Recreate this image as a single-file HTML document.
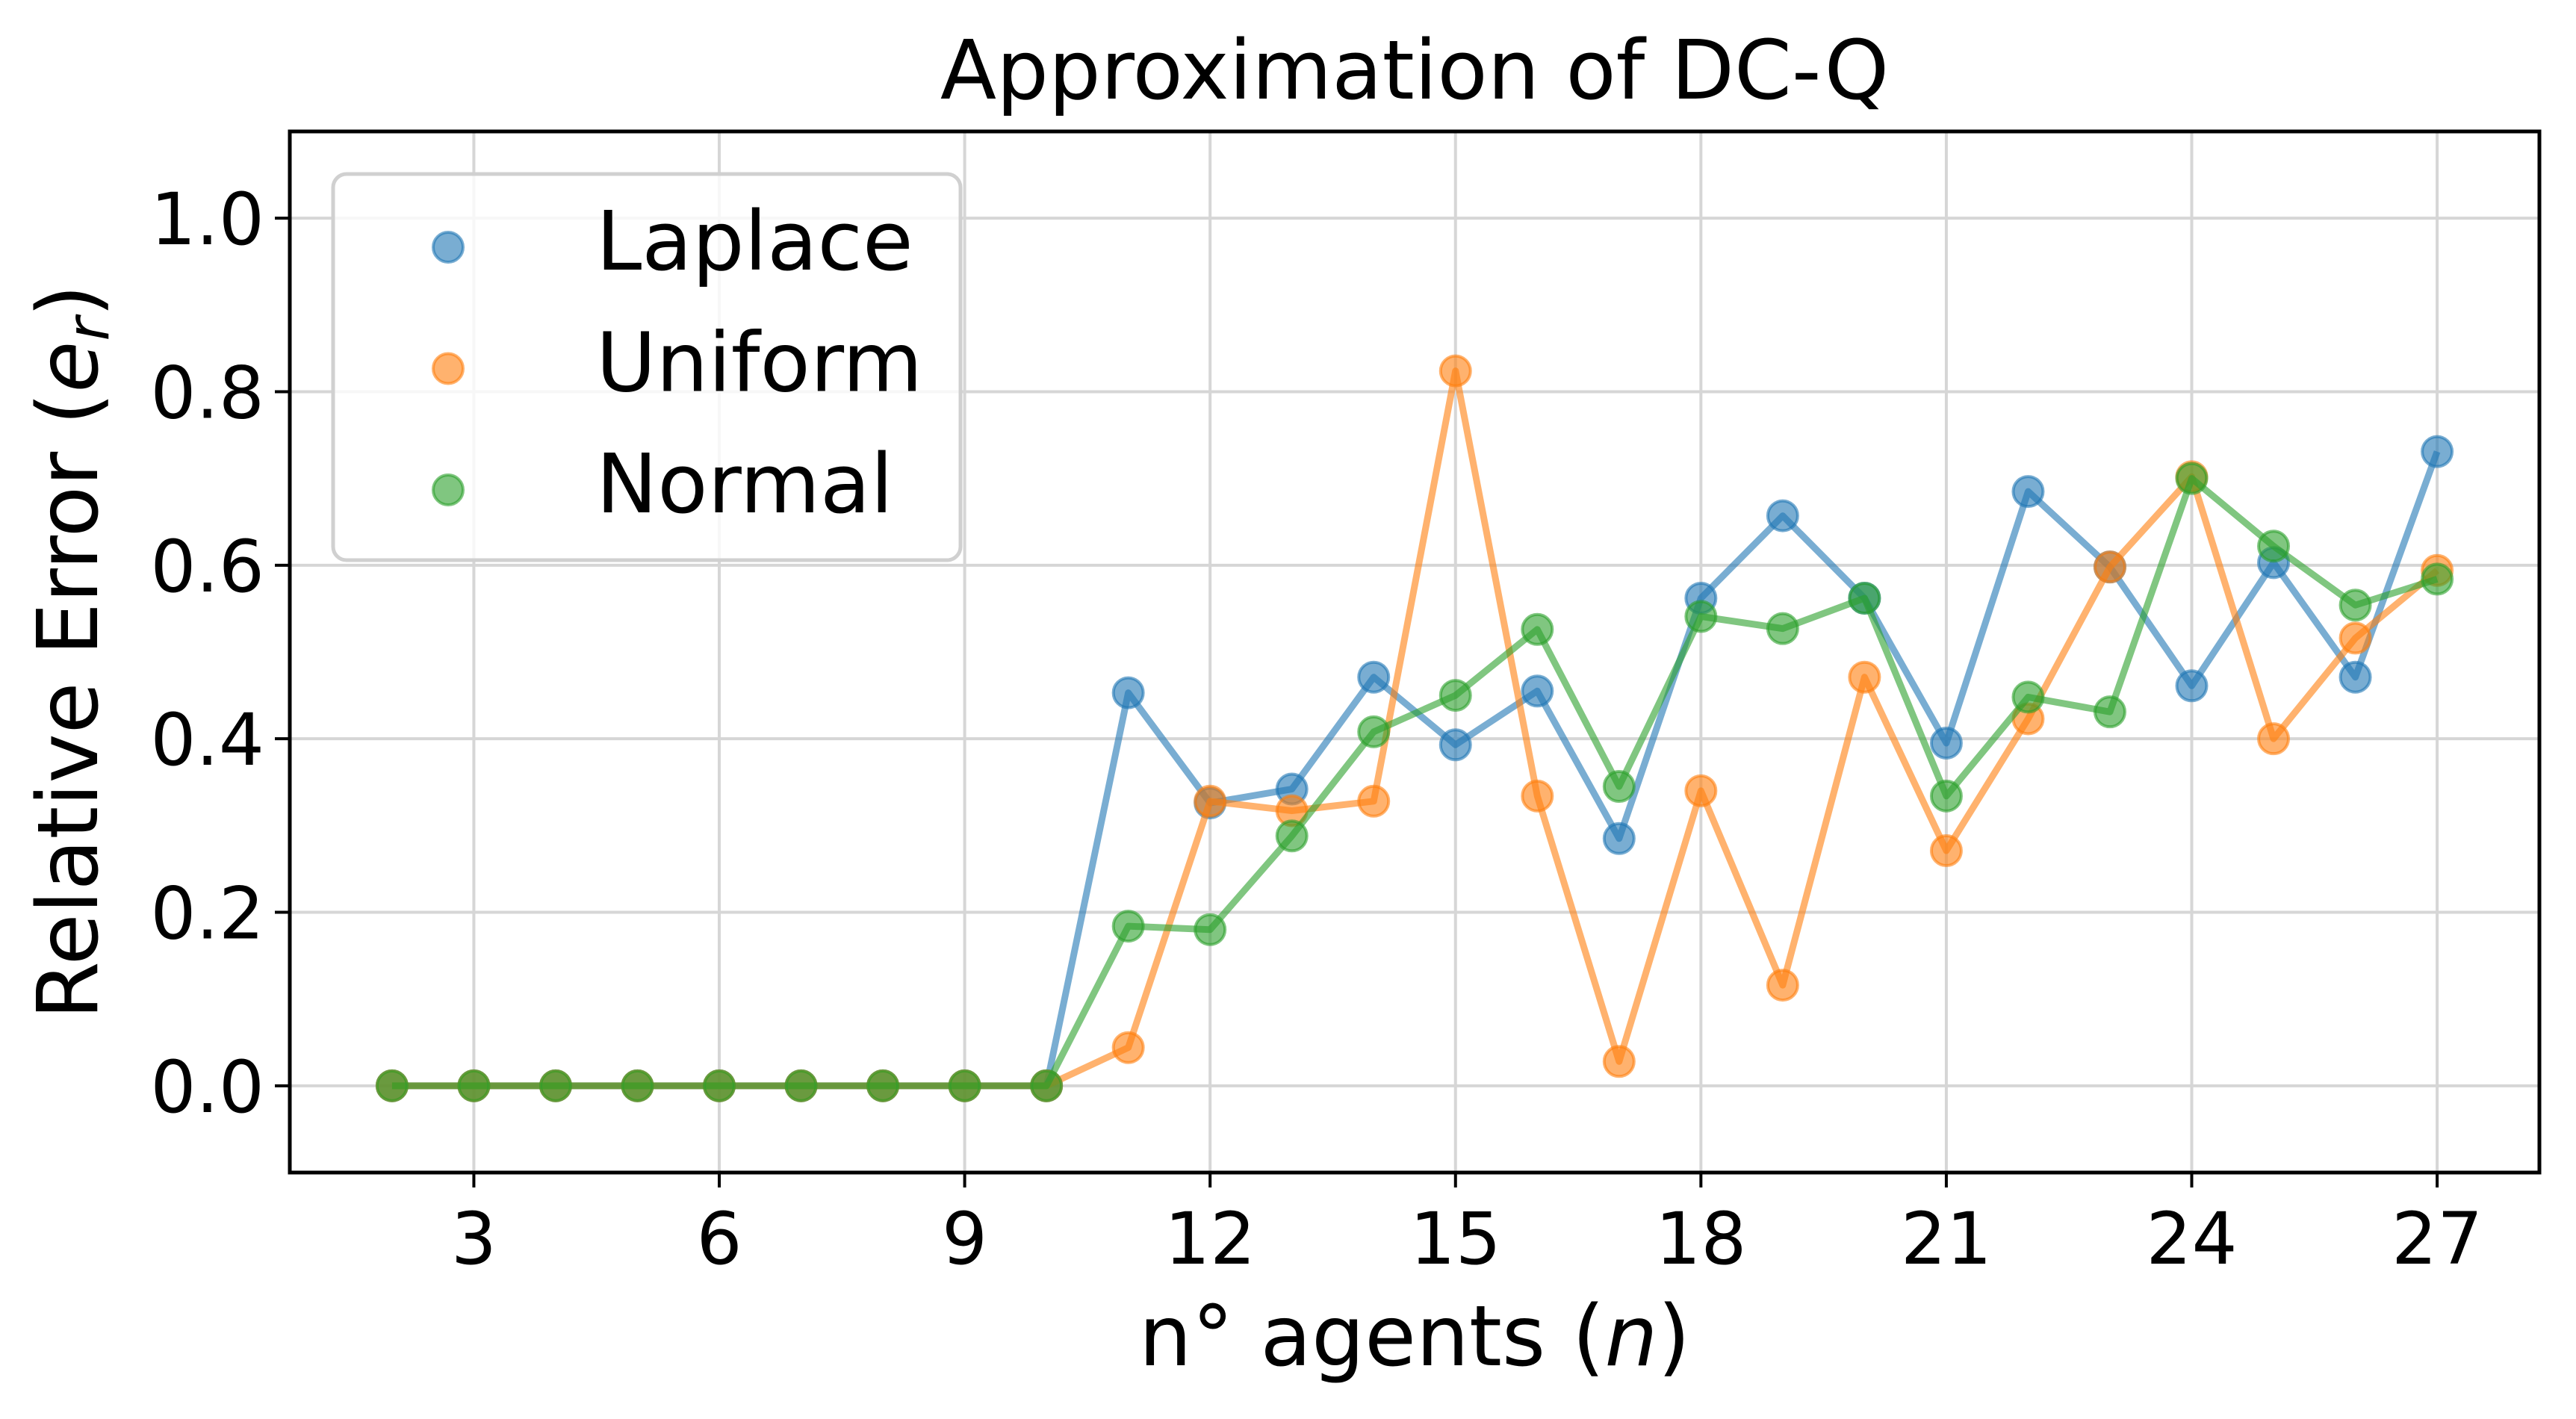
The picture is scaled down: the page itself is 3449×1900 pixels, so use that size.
<!DOCTYPE html>
<html><head><meta charset="utf-8"><style>
html,body{margin:0;padding:0;background:#fff;}
svg{display:block;font-family:"DejaVu Sans","Liberation Sans",sans-serif;}
</style></head><body>
<svg id="chart" width="3449" height="1900" viewBox="0 0 3449 1900" xmlns="http://www.w3.org/2000/svg">
<rect width="3449" height="1900" fill="#fff"/>
<g id="grid"></g>
<g id="series"></g>
<rect x="388" y="176" width="3012" height="1394" fill="none" stroke="#000" stroke-width="5"/>
<g id="ticks"></g>
<text x="1894" y="132" font-size="110" text-anchor="middle">Approximation of DC-Q</text>
<text x="1894" y="1828" font-size="112" text-anchor="middle">n° agents (<tspan font-style="italic">n</tspan>)</text>
<text transform="translate(130,873) rotate(-90)" font-size="112" text-anchor="middle">Relative Error (<tspan font-style="italic">e</tspan><tspan font-style="italic" font-size="78" dy="15">r</tspan><tspan dy="-15">)</tspan></text>
<g id="legend">
<rect x="446" y="233" width="840" height="517" rx="18" fill="#fff" fill-opacity="0.8" stroke="#d0d0d0" stroke-width="5"/>
</g>
</svg>
<script>
const categories=[2,3,4,5,6,7,8,9,10,11,12,13,14,15,16,17,18,19,20,21,22,23,24,25,26,27];
const laplace=[0,0,0,0,0,0,0,0,0,0.453,0.326,0.342,0.471,0.393,0.455,0.285,0.562,0.657,0.562,0.395,0.685,0.598,0.461,0.603,0.471,0.731];
const uniform=[0,0,0,0,0,0,0,0,0,0.044,0.328,0.317,0.328,0.824,0.334,0.028,0.340,0.116,0.471,0.271,0.423,0.598,0.702,0.400,0.516,0.594];
const normal=[0,0,0,0,0,0,0,0,0,0.184,0.180,0.288,0.408,0.450,0.526,0.345,0.541,0.527,0.562,0.334,0.448,0.431,0.700,0.622,0.554,0.584];
const xTicks=[3,6,9,12,15,18,21,24,27];
const yTicks=[0,0.2,0.4,0.6,0.8,1.0];
const yTickLabels=["0.0","0.2","0.4","0.6","0.8","1.0"];
const seriesNames=["Laplace","Uniform","Normal"];
const seriesColors=["#1f77b4","#ff7f0e","#2ca02c"];

const NS="http://www.w3.org/2000/svg";
const X0=388,X1=3400,Y0=176,Y1=1570,XMIN=0.75,XMAX=28.25,YMIN=-0.1,YMAX=1.1;
const xs=v=>X0+(v-XMIN)/(XMAX-XMIN)*(X1-X0);
const ys=v=>Y1-(v-YMIN)/(YMAX-YMIN)*(Y1-Y0);
function mk(tag,attrs,parent){const e=document.createElementNS(NS,tag);for(const k in attrs)e.setAttribute(k,attrs[k]);parent.appendChild(e);return e;}
const grid=document.getElementById('grid'),ticks=document.getElementById('ticks'),ser=document.getElementById('series'),leg=document.getElementById('legend');
xTicks.forEach(t=>{
  const g=mk('line',{x1:xs(t),x2:xs(t),y1:Y0,y2:Y1,stroke:'#d6d6d6','stroke-width':4},grid);
  
  
  const tk=mk('line',{x1:xs(t),x2:xs(t),y1:Y1,y2:Y1+20,stroke:'#000','stroke-width':4},ticks);
  
  
  const lb=mk('text',{x:xs(t),y:1692,'font-size':96,'text-anchor':'middle'},ticks);
  lb.textContent=String(t);
  
  
});
yTicks.forEach((t,i)=>{
  const g=mk('line',{x1:X0,x2:X1,y1:ys(t),y2:ys(t),stroke:'#d6d6d6','stroke-width':4},grid);
  
  
  const tk=mk('line',{x1:X0-20,x2:X0,y1:ys(t),y2:ys(t),stroke:'#000','stroke-width':4},ticks);
  
  
  const lb=mk('text',{x:X0-34,y:ys(t)+35,'font-size':96,'text-anchor':'end'},ticks);
  lb.textContent=yTickLabels[i];
  
  
});
[laplace,uniform,normal].forEach((vals,si)=>{
  const c=seriesColors[si];
  const pts=categories.map((x,i)=>xs(x)+','+ys(vals[i])).join(' ');
  const ln=mk('polyline',{points:pts,fill:'none',stroke:c,'stroke-width':9,'stroke-opacity':0.6,'stroke-linejoin':'round'},ser);
  
  
  categories.forEach((x,i)=>{
    const p=mk('circle',{cx:xs(x),cy:ys(vals[i]),r:20,fill:c,'fill-opacity':0.6,stroke:c,'stroke-opacity':0.6,'stroke-width':4},ser);
    
    
  });
  const ly=331+si*162.5;
  const m=mk('circle',{cx:600,cy:ly,r:20,fill:c,'fill-opacity':0.6,stroke:c,'stroke-opacity':0.6,'stroke-width':4},leg);
  
  
  const t=mk('text',{x:798,y:ly+30,'font-size':110},leg);
  t.textContent=seriesNames[si];
  
  
});
</script>
</body></html>
